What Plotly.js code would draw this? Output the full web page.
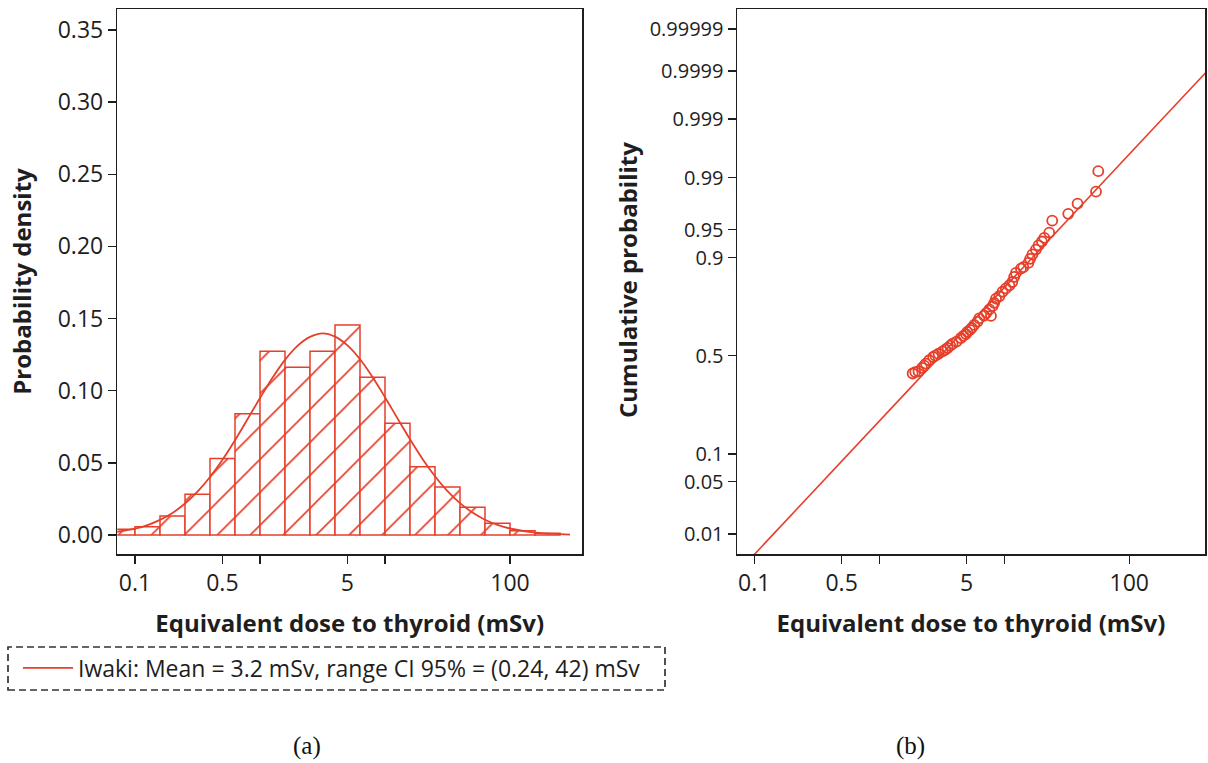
<!DOCTYPE html>
<html><head><meta charset="utf-8">
<script src="https://cdn.plot.ly/plotly-3.0.1.min.js"></script>
<style>html,body{margin:0;padding:0;background:#fff;}#chart{width:1208px;height:763px;}</style>
</head><body><div id="chart"></div>
<script>
// ---- data ----
const binEdges = [0.0631, 0.1, 0.1585, 0.2512, 0.3981, 0.631, 1, 1.585, 2.512, 3.981, 6.31, 10, 15.85, 25.12, 39.81, 63.1, 100, 158.5, 251.2];
const binDensity = [0.004, 0.0058, 0.0132, 0.0282, 0.0531, 0.0841, 0.1273, 0.1162, 0.1273, 0.1455, 0.1093, 0.0774, 0.0473, 0.0333, 0.0192, 0.0082, 0.003, 0.0012];

const curveDose = [0.0708, 0.0794, 0.1, 0.1259, 0.1585, 0.1995, 0.2512, 0.3162, 0.3981, 0.5012, 0.631, 0.7943, 1, 1.259, 1.585, 1.995, 2.512, 3.162, 3.981, 5.012, 6.31, 7.943, 10, 12.59, 15.85, 19.95, 25.12, 31.62, 39.81, 50.12, 63.1, 79.43, 100, 158.5, 251.2, 302];
const curveDensity = [0.0022, 0.0028, 0.0044, 0.0069, 0.0105, 0.0153, 0.0218, 0.0301, 0.0402, 0.0522, 0.0657, 0.0802, 0.0949, 0.1090, 0.1214, 0.1311, 0.1373, 0.1398, 0.1375, 0.1314, 0.1218, 0.1095, 0.0955, 0.0808, 0.0663, 0.0527, 0.0407, 0.0304, 0.0221, 0.0156, 0.0106, 0.0070, 0.0045, 0.0017, 0.0006, 0.0003];

const qqDose = [1.85, 1.94, 2.06, 2.20, 2.29, 2.36, 2.51, 2.70, 2.81, 2.98, 3.21, 3.37, 3.52, 3.70, 3.86, 4.15, 4.50, 4.70, 4.94, 5.06, 5.32, 5.50, 5.75, 6.11, 6.31, 7.83, 6.9, 7.2, 7.6, 8.06, 8.32, 8.59, 9.12, 9.69, 10.3, 11.0, 11.6, 12.0, 12.4, 13.6, 14.2, 15.6, 16.1, 16.8, 17.9, 18.8, 20.0, 20.9, 22.9, 24.2, 32.5, 38.6, 54.2, 56.5];
const qqProb = [0.408, 0.415, 0.419, 0.437, 0.448, 0.459, 0.476, 0.493, 0.500, 0.510, 0.522, 0.531, 0.540, 0.552, 0.562, 0.573, 0.591, 0.602, 0.611, 0.622, 0.632, 0.642, 0.656, 0.672, 0.687, 0.698, 0.700, 0.712, 0.727, 0.741, 0.755, 0.772, 0.781, 0.798, 0.810, 0.821, 0.832, 0.848, 0.860, 0.872, 0.876, 0.887, 0.897, 0.907, 0.917, 0.925, 0.932, 0.938, 0.946, 0.961, 0.968, 0.9765, 0.9839, 0.992];

const fitDose = [0.1, 446.7];
const fitProb = [0.0047, 0.999916];

const doseTickVals = [0.1, 0.5, 1, 5, 10, 100];
const doseTickText = ['0.1', '0.5', '', '5', '', '100'];
const densTickVals = [0, 0.05, 0.10, 0.15, 0.20, 0.25, 0.30, 0.35];
const densTickText = ['0.00', '0.05', '0.10', '0.15', '0.20', '0.25', '0.30', '0.35'];
const probTickVals = [0.01, 0.05, 0.1, 0.5, 0.9, 0.95, 0.99, 0.999, 0.9999, 0.99999];
const probTickText = ['0.01', '0.05', '0.1', '0.5', '0.9', '0.95', '0.99', '0.999', '0.9999', '0.99999'];

const legendText = 'Iwaki: Mean = 3.2 mSv, range CI 95% = (0.24, 42) mSv';
const xTitle = 'Equivalent dose to thyroid (mSv)';

// ---- probability-scale transform (inverse normal CDF) ----
function probit(p) {
  const a = [-3.969683028665376e+01, 2.209460984245205e+02, -2.759285104469687e+02, 1.383577518672690e+02, -3.066479806614716e+01, 2.506628277459239e+00];
  const b = [-5.447609879822406e+01, 1.615858368580409e+02, -1.556989798598866e+02, 6.680131188771972e+01, -1.328068155288572e+01];
  const c = [-7.784894002430293e-03, -3.223964580411365e-01, -2.400758277161838e+00, -2.549732539343734e+00, 4.374664141464968e+00, 2.938163982698783e+00];
  const d = [7.784695709041462e-03, 3.224671290700398e-01, 2.445134137142996e+00, 3.754408661907416e+00];
  const pl = 0.02425, ph = 1 - pl;
  let q, r;
  if (p < pl) {
    q = Math.sqrt(-2 * Math.log(p));
    return (((((c[0]*q+c[1])*q+c[2])*q+c[3])*q+c[4])*q+c[5]) / ((((d[0]*q+d[1])*q+d[2])*q+d[3])*q+1);
  }
  if (p <= ph) {
    q = p - 0.5; r = q * q;
    return (((((a[0]*r+a[1])*r+a[2])*r+a[3])*r+a[4])*r+a[5])*q / (((((b[0]*r+b[1])*r+b[2])*r+b[3])*r+b[4])*r+1);
  }
  q = Math.sqrt(-2 * Math.log(1 - p));
  return -(((((c[0]*q+c[1])*q+c[2])*q+c[3])*q+c[4])*q+c[5]) / ((((d[0]*q+d[1])*q+d[2])*q+d[3])*q+1);
}

const RED = '#e63f2a';
const INK = '#1e1e1e';
const FONT = 'Open Sans, Noto Sans, sans-serif';

const binLeft = binEdges.slice(0, -1);
const binWidth = binLeft.map((v, i) => binEdges[i + 1] - v);

const traces = [
  {
    type: 'bar', x: binLeft, y: binDensity, width: binWidth, offset: 0,
    xaxis: 'x', yaxis: 'y', showlegend: false, hoverinfo: 'skip',
    marker: {
      color: 'white',
      line: {color: RED, width: 1.5},
      pattern: {shape: '/', fgcolor: RED, bgcolor: 'white', size: 23.3, solidity: 0.07, fillmode: 'replace'}
    }
  },
  {
    type: 'scatter', mode: 'lines', x: curveDose, y: curveDensity,
    xaxis: 'x', yaxis: 'y', name: legendText, showlegend: true,
    line: {color: RED, width: 1.8, shape: 'spline'}
  },
  {
    type: 'scatter', mode: 'lines', x: fitDose, y: fitProb.map(probit),
    xaxis: 'x2', yaxis: 'y2', showlegend: false,
    line: {color: RED, width: 1.6}
  },
  {
    type: 'scatter', mode: 'markers', x: qqDose, y: qqProb.map(probit),
    xaxis: 'x2', yaxis: 'y2', showlegend: false,
    marker: {symbol: 'circle-open', size: 10, color: RED, line: {color: RED, width: 1.8}}
  }
];

const axCommon = {
  ticks: 'outside', ticklen: 8, tickwidth: 1.5, tickcolor: INK,
  showline: true, linecolor: INK, linewidth: 1.5, mirror: true,
  showgrid: false, zeroline: false, automargin: false,
  tickfont: {family: FONT, size: 23, color: INK}
};
const titleFont = {family: FONT, size: 24, color: INK, weight: 700};

const yDom = [1 - 554 / 763, 1 - 9 / 763];

const layout = {
  width: 1208, height: 763,
  margin: {l: 0, r: 0, t: 0, b: 0},
  paper_bgcolor: '#ffffff', plot_bgcolor: '#ffffff',
  font: {family: FONT, color: INK, size: 20},
  bargap: 0,
  xaxis: Object.assign({}, axCommon, {
    domain: [117.3 / 1208, 582 / 1208], anchor: 'y', type: 'log',
    range: [-1.1416, 2.576], tickmode: 'array', tickvals: doseTickVals, ticktext: doseTickText,
    title: {text: xTitle, font: titleFont, standoff: 18}
  }),
  yaxis: Object.assign({}, axCommon, {
    domain: yDom, anchor: 'x',
    range: [-0.01317, 0.36455], tickmode: 'array', tickvals: densTickVals, ticktext: densTickText,
    title: {text: 'Probability density', font: titleFont, standoff: 19}
  }),
  xaxis2: Object.assign({}, axCommon, {
    domain: [737 / 1208, 1205 / 1208], anchor: 'y2', type: 'log',
    range: [-1.138, 2.606], tickmode: 'array', tickvals: doseTickVals, ticktext: doseTickText,
    title: {text: xTitle, font: titleFont, standoff: 18}
  }),
  yaxis2: Object.assign({}, axCommon, {
    domain: yDom, anchor: 'x2',
    range: [-2.590, 4.527], tickmode: 'array', tickvals: probTickVals.map(probit), ticktext: probTickText,
    tickfont: {family: FONT, size: 20, color: INK}
  }),
  showlegend: true,
  legend: {
    x: 18 / 1208, y: 1 - 668 / 763, xanchor: 'left', yanchor: 'middle',
    bgcolor: 'rgba(0,0,0,0)', borderwidth: 0, itemwidth: 50,
    font: {family: FONT, size: 23, color: INK}
  },
  shapes: [{
    type: 'rect', xref: 'paper', yref: 'paper',
    x0: 8 / 1208, x1: 665 / 1208, y0: 1 - 690 / 763, y1: 1 - 647 / 763,
    line: {color: '#333333', width: 1.7, dash: '7px,4px'}
  }],
  annotations: [
    {text: 'Cumulative probability', xref: 'paper', yref: 'paper', x: 627 / 1208, y: 1 - 280 / 763,
     textangle: -90, showarrow: false, xanchor: 'center', yanchor: 'middle', font: titleFont},
    {text: '(a)', xref: 'paper', yref: 'paper', x: 307 / 1208, y: 1 - 746 / 763, showarrow: false,
     xanchor: 'center', yanchor: 'middle', font: {family: 'Liberation Serif, Times New Roman, serif', size: 25, color: '#111'}},
    {text: '(b)', xref: 'paper', yref: 'paper', x: 910 / 1208, y: 1 - 746 / 763, showarrow: false,
     xanchor: 'center', yanchor: 'middle', font: {family: 'Liberation Serif, Times New Roman, serif', size: 25, color: '#111'}}
  ]
};

Plotly.newPlot('chart', traces, layout, {staticPlot: true, displayModeBar: false});
</script>
</body></html>
